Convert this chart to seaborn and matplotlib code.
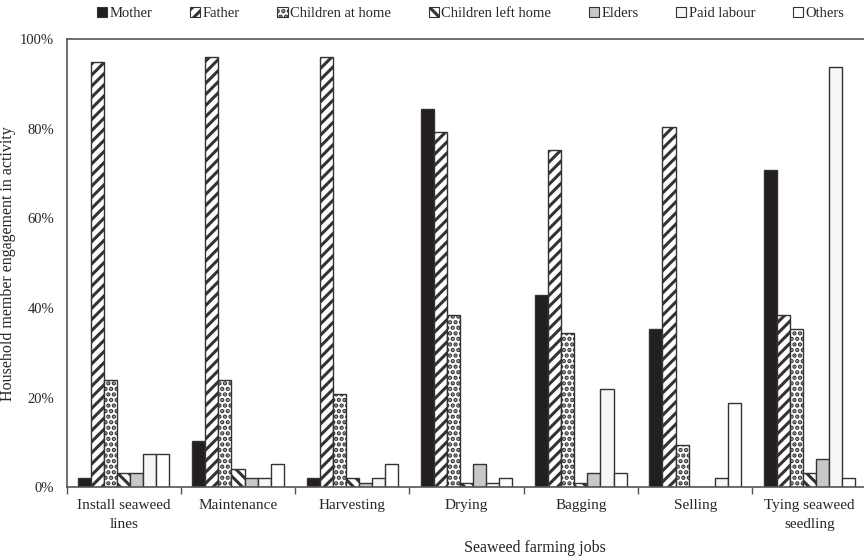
import matplotlib
matplotlib.use("Agg")
import matplotlib.pyplot as plt
from matplotlib.patches import Patch
from matplotlib.ticker import PercentFormatter
import seaborn as sns
import pandas as pd
import numpy as np

jobs = ["Install seaweed\nlines", "Maintenance", "Harvesting", "Drying",
        "Bagging", "Selling", "Tying seaweed\nseedling"]
members = ["Mother", "Father", "Children at home", "Children left home",
           "Elders", "Paid labour", "Others"]

mother = [2.0, 10.4, 2.0, 84.5, 42.8, 35.4, 70.8]
father = [95.0, 96.0, 96.0, 79.3, 75.2, 80.3, 38.5]
children_home = [24.0, 24.0, 20.8, 38.5, 34.4, 9.4, 35.4]
children_left = [3.1, 4.0, 2.0, 1.0, 1.0, 0.0, 3.1]
elders = [3.1, 2.0, 1.0, 5.2, 3.1, 0.0, 6.2]
paid_labour = [7.3, 2.0, 2.0, 1.0, 21.9, 2.0, 93.8]
others = [7.3, 5.2, 5.2, 2.0, 3.1, 18.8, 2.0]

series = [mother, father, children_home, children_left, elders, paid_labour, others]

rows = []
for m, vals in zip(members, series):
    for j, v in zip(jobs, vals):
        rows.append({"job": j, "member": m, "value": v})
df = pd.DataFrame(rows)

colors = ["#231f20", "white", "white", "white", "#c8c8c8", "#f6f6f6", "white"]
hatches = [None, "///", "...", "\\\\\\", None, None, None]
edge = "#333333"

sns.set_style("white")
plt.rcParams["font.family"] = ["Liberation Serif", "DejaVu Serif"]
plt.rcParams["hatch.linewidth"] = 2.2
plt.rcParams["hatch.color"] = "black"

fig, ax = plt.subplots(figsize=(8.64, 5.6), dpi=100)
fig.subplots_adjust(left=0.077, right=1.003, bottom=0.13, top=0.93)

sns.barplot(data=df, x="job", y="value", hue="member", order=jobs,
            hue_order=members, palette=colors, edgecolor=edge, linewidth=1.0,
            width=0.8, saturation=1, legend=False, ax=ax, errorbar=None)

for cont, h, c in zip(ax.containers, hatches, colors):
    for bar in cont:
        bar.set_facecolor(c)
        bar.set_edgecolor(edge)
        if h:
            bar.set_hatch(h)

ax.set_ylim(0, 100)
ax.set_xlim(-0.5, len(jobs) - 0.5)
ax.set_yticks(np.arange(0, 101, 20))
ax.yaxis.set_major_formatter(PercentFormatter(decimals=0))
ax.set_ylabel("Household member engagement in activity", fontsize=11.5, labelpad=3)
ax.set_xlabel("Seaweed farming jobs", fontsize=11.5)
ax.xaxis.set_label_coords(0.586, -0.118)

ax.set_xticks(np.arange(len(jobs)))
ax.set_xticklabels(jobs, fontsize=11, linespacing=1.6)
ax.tick_params(axis="x", length=0, pad=8.5)
ax.set_xticks(np.arange(len(jobs) + 1) - 0.5, minor=True)
ax.tick_params(axis="x", which="minor", length=5, width=1, color="#555555", direction="out", bottom=True)
ax.tick_params(axis="y", length=0, labelsize=10.5, pad=9)

for s in ["left", "bottom", "top", "right"]:
    ax.spines[s].set_visible(True)
    ax.spines[s].set_color("#555555")
    ax.spines[s].set_linewidth(1.2)

handles = [Patch(facecolor=c, edgecolor=edge, hatch=h, linewidth=0.8)
           for c, h in zip(colors, hatches)]
ax.legend(handles, members, loc="lower center", bbox_to_anchor=(0.505, 1.02),
          ncol=7, frameon=False, fontsize=10.5, handlelength=0.7, handleheight=0.7,
          handletextpad=0.15, columnspacing=2.6, borderaxespad=0.3)

fig.savefig("out.png", dpi=100)
